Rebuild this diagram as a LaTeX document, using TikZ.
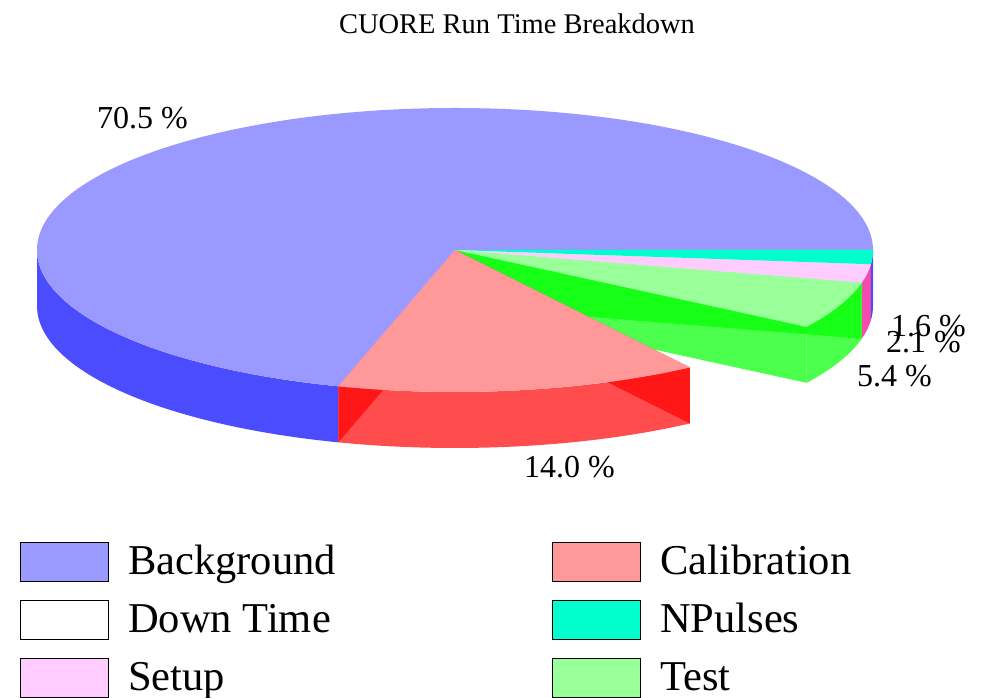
\documentclass[tikz,border=0pt]{standalone}
\usepackage{fontspec}
\setmainfont{Liberation Serif}
\usetikzlibrary{calc}

\definecolor{bgcol}{RGB}{153,153,255}
\definecolor{calcol}{RGB}{255,153,153}
\definecolor{npcol}{RGB}{0,255,204}
\definecolor{setcol}{RGB}{255,204,255}
\definecolor{testcol}{RGB}{153,255,153}

% outer wall of a slice, radial wall, top face
\newcommand{\piewall}[3]{\fill[wallfill, #3] (c) ++(#1:418 and 142)
  arc[start angle=#1, end angle=#2, x radius=418, y radius=142] -- ++(0,-56)
  arc[start angle=#2, end angle=#1, x radius=418, y radius=142] -- cycle;}
\newcommand{\pieside}[2]{\fill[wallfill, #2] (c) -- ++(#1:418 and 142) -- ++(0,-56) -- (cb) -- cycle;}
\newcommand{\pietop}[3]{\fill[#3] (c) -- ++(#1:418 and 142)
  arc[start angle=#1, end angle=#2, x radius=418, y radius=142] -- cycle;}

\begin{document}
\begin{tikzpicture}[x=1pt, y=1pt,
    wallfill/.style={fill opacity=0.7},
    pctlabel/.style={anchor=base west, inner sep=0, font=\fontsize{32}{34}\selectfont},
    legbox/.style={draw, line width=0.8, minimum width=88, minimum height=39, inner sep=0},
    legtext/.style={anchor=base west, inner sep=0, font=\fontsize{42.5}{44}\selectfont}]
  \useasboundingbox (0,0) rectangle (985,698);
  % centre of the pie, top and bottom
  \coordinate (c) at (455,448);
  \coordinate (cb) at (455,392);
  % title
  \node[anchor=base, inner sep=0, font=\fontsize{28.5}{30}\selectfont] (title) at (517,664) {CUORE Run Time Breakdown};
  % walls
  \piewall{180}{253.8}{blue}
  \piewall{354.24}{360}{blue}
  \piewall{346.68}{354.24}{magenta}
  \piewall{327.24}{346.68}{green}
  \pieside{327.24}{green}
  \pieside{346.68}{green}
  \piewall{253.8}{304.2}{red}
  \pieside{253.8}{red}
  \pieside{304.2}{red}
  % tops
  \pietop{0}{253.8}{bgcol}
  \pietop{253.8}{304.2}{calcol}
  \pietop{327.24}{346.68}{testcol}
  \pietop{346.68}{354.24}{setcol}
  \pietop{354.24}{360}{npcol}
  % percentages
  \node[pctlabel] (pbg) at (97,569) {70.5 \%};
  \node[pctlabel] (pcal) at (524,220) {14.0 \%};
  \node[pctlabel] (ptest) at (857,311) {5.4 \%};
  \node[pctlabel] (pset) at (886,345) {2.1 \%};
  \node[pctlabel] (pnp) at (891,361) {1.6 \%};
  % legend
  \node[legbox, fill=bgcol, anchor=south west] (bbg) at (20,116) {};
  \node[legbox, fill=white, anchor=south west] (bdown) at (20,58) {};
  \node[legbox, fill=setcol, anchor=south west] (bset) at (20,0) {};
  \node[legbox, fill=calcol, anchor=south west] (bcal) at (552,116) {};
  \node[legbox, fill=npcol, anchor=south west] (bnp) at (552,58) {};
  \node[legbox, fill=testcol, anchor=south west] (btest) at (552,0) {};
  \node[legtext] (lbg) at (128,123) {Background};
  \node[legtext] (ldown) at (128,65) {Down Time};
  \node[legtext] (lset) at (128,7) {Setup};
  \node[legtext] (lcal) at (660,123) {Calibration};
  \node[legtext] (lnp) at (660,65) {NPulses};
  \node[legtext] (ltest) at (660,7) {Test};
\end{tikzpicture}
\end{document}
